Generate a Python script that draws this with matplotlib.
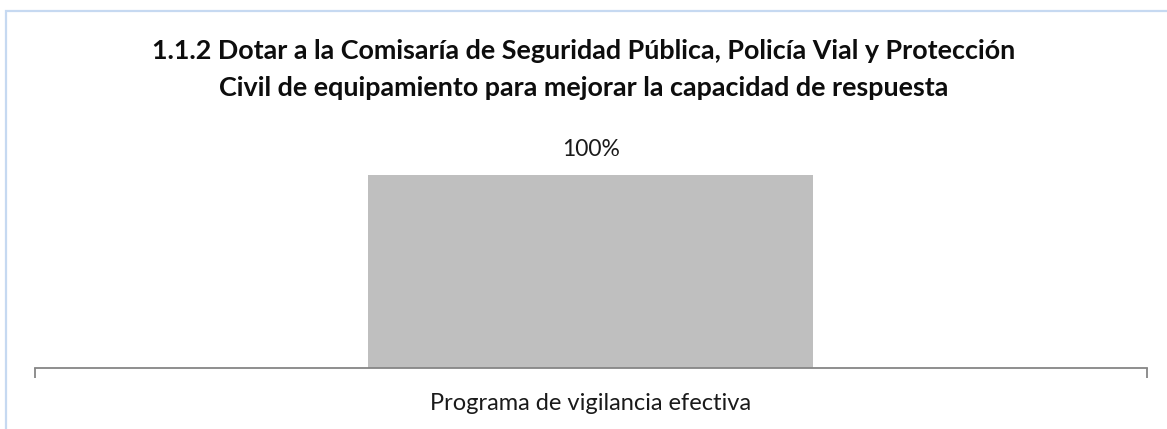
import matplotlib.pyplot as plt
from matplotlib.patches import Rectangle

categories = ["Programa de vigilancia efectiva"]
values = [100]
value_labels = ["100%"]
title = ("1.1.2 Dotar a la Comisaría de Seguridad Pública, Policía Vial y Protección\n"
         "Civil de equipamiento para mejorar la capacidad de respuesta")

W, H = 1167, 429
fig = plt.figure(figsize=(W / 100, H / 100), dpi=100)
fig.patch.set_facecolor("white")

# light blue chart-area border (runs off the right and bottom edges)
fig.patches.append(Rectangle((5.5 / W, -0.1), 1.2, 1 - 10.5 / H + 0.1,
                             transform=fig.transFigure, fill=False,
                             edgecolor="#C6D9F1", lw=1.6))

ax = fig.add_axes([34.5 / W, 1 - 368 / H, (1147 - 34.5) / W, (368 - 140) / H])
x = list(range(len(categories)))
bars = ax.bar(x, values, width=0.4, color="#BFBFBF", zorder=2)
ax.set_xlim(-0.5, len(categories) - 0.5)
ax.set_ylim(0, 100 * 228 / 193)

for b, lab in zip(bars, value_labels):
    ax.annotate(lab, (b.get_x() + b.get_width() / 2, b.get_height()),
                xytext=(0, 26), textcoords="offset pixels", ha="center", va="center",
                fontsize=16.5, color="#1A1A1A", family="Lato")

for s in ("top", "right", "left"):
    ax.spines[s].set_visible(False)
ax.spines["bottom"].set_color("#868686")
ax.spines["bottom"].set_linewidth(1.3)
ax.set_yticks([])
ax.set_xticks([-0.5, 0.5], minor=False)
ax.set_xticklabels([])
ax.tick_params(axis="x", length=7, width=1.3, color="#868686")
for i, c in enumerate(categories):
    ax.text(i, -36 / 193 * 100, c, ha="center", va="center", fontsize=17,
            color="#1A1A1A", family="Lato")

fig.text(0.5, 1 - 69.5 / H, title, ha="center", va="center", fontsize=19.4,
         fontweight="bold", family="Lato", linespacing=1.62, color="#0D0D0D")

fig.savefig("out.png", dpi=100)
